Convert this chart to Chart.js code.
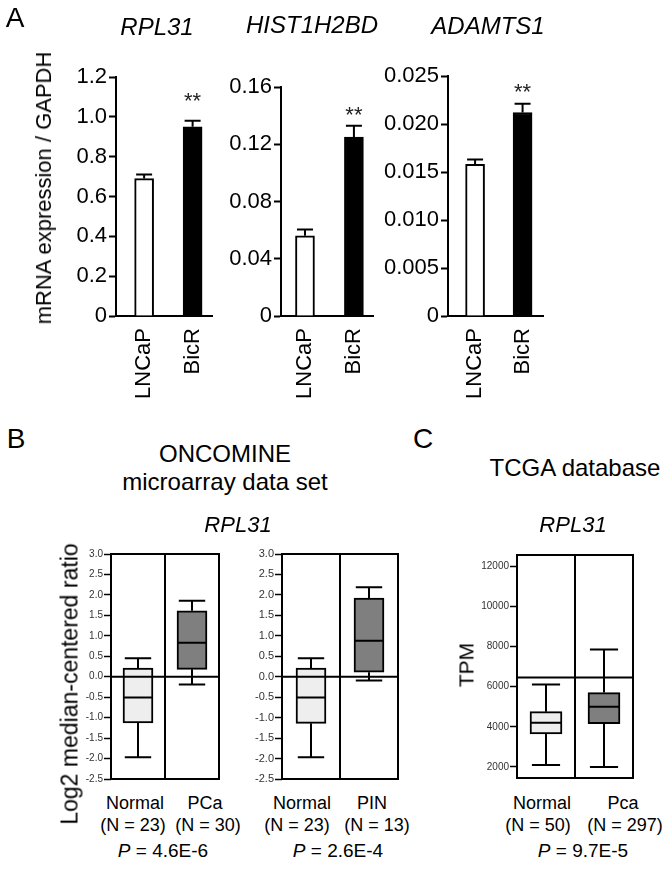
<!DOCTYPE html>
<html>
<head>
<meta charset="utf-8">
<script src="https://cdn.jsdelivr.net/npm/chart.js@4.4.1/dist/chart.umd.min.js"></script>
<style>
html, body { margin: 0; padding: 0; background: #fff; }
#fig { position: relative; width: 670px; height: 869px; overflow: hidden;
       font-family: "Liberation Sans", Arial, sans-serif; color: #000; }
#fig canvas { position: absolute; }
.t { position: absolute; white-space: nowrap; line-height: 1; transform: translate(-50%, -50%); }
.rot { transform: translate(-50%, -50%) rotate(-90deg); }
</style>
</head>
<body>
<div id="fig"></div>
<script>
// ---- panel A : qPCR, mean + error ----
var cellLines = ['LNCaP', 'BicR'];
var genesA = ['RPL31', 'HIST1H2BD', 'ADAMTS1'];
var rpl31Expr = [0.69, 0.95];
var rpl31Err = [0.02, 0.03];
var histExpr = [0.056, 0.125];
var histErr = [0.0045, 0.008];
var adamtsExpr = [0.0158, 0.0212];
var adamtsErr = [0.0005, 0.0009];
var starLevel = [1.10, 0.143, 0.0237];

// ---- panel B : ONCOMINE box plots (log2 median-centered ratio) ----
var oncGroups1 = ['Normal', 'PCa'];
var oncN1 = [23, 30];
var oncQ1_1 = [-1.13, 0.18];
var oncQ3_1 = [0.21, 1.61];
var oncMed1 = [-0.51, 0.83];
var oncLo1 = [-1.97, -0.19];
var oncHi1 = [0.45, 1.86];
var oncP1 = '4.6E-6';

var oncGroups2 = ['Normal', 'PIN'];
var oncN2 = [23, 13];
var oncQ1_2 = [-1.14, 0.11];
var oncQ3_2 = [0.21, 1.92];
var oncMed2 = [-0.51, 0.88];
var oncLo2 = [-1.97, -0.09];
var oncHi2 = [0.45, 2.19];
var oncP2 = '2.6E-4';

// ---- panel C : TCGA box plot (TPM) ----
var tcgaGroups = ['Normal', 'Pca'];
var tcgaN = [50, 297];
var tcgaQ1 = [3650, 4150];
var tcgaQ3 = [4750, 5700];
var tcgaMed = [4200, 5000];
var tcgaLo = [2100, 2000];
var tcgaHi = [6100, 7850];
var tcgaRef = 6450;
var tcgaTicks = [2000, 4000, 6000, 8000, 10000, 12000];
var tcgaP = '9.7E-5';

var FONT = '"Liberation Sans", Arial, sans-serif';
Chart.defaults.font.family = FONT;
Chart.defaults.color = '#000';

var fig = document.getElementById('fig');

function mount(left, top, w, h) {
    var c = document.createElement('canvas');
    c.width = w; c.height = h;
    c.style.left = left + 'px'; c.style.top = top + 'px';
    fig.appendChild(c);
    return c;
}

function text(html, x, y, size, cls) {
    var d = document.createElement('div');
    d.className = 't' + (cls ? ' ' + cls : '');
    d.style.left = x + 'px'; d.style.top = y + 'px';
    d.style.fontSize = size + 'px';
    d.innerHTML = html;
    fig.appendChild(d);
}

// error bars + significance stars on top of the bars
var errorBars = {
    id: 'errorBars',
    afterDatasetsDraw(chart, args, opts) {
        var ctx = chart.ctx, y = chart.scales.y;
        var meta = chart.getDatasetMeta(0);
        var vals = chart.data.datasets[0].data;
        ctx.save();
        ctx.strokeStyle = '#000';
        ctx.lineWidth = 2;
        meta.data.forEach(function(bar, i) {
            var v = vals[i].y;
            var y0 = y.getPixelForValue(v), y1 = y.getPixelForValue(v + opts.err[i]);
            ctx.beginPath();
            ctx.moveTo(bar.x, y0); ctx.lineTo(bar.x, y1);
            ctx.moveTo(bar.x - 8, y1); ctx.lineTo(bar.x + 8, y1);
            ctx.stroke();
        });
        ctx.fillStyle = '#222';
        ctx.font = '22px ' + FONT;
        ctx.textAlign = 'center';
        ctx.textBaseline = 'alphabetic';
        ctx.fillText('**', meta.data[1].x, y.getPixelForValue(opts.star) + 11);
        ctx.restore();
    }
};

function barChart(canvas, values, errs, star, geo, yCfg) {
    new Chart(canvas, {
        type: 'bar',
        data: {
            datasets: [{
                data: values.map(function(v, i) { return { x: i, y: v }; }),
                backgroundColor: ['#fff', '#000'],
                borderColor: '#000',
                borderWidth: 2,
                barThickness: 19
            }]
        },
        options: {
            responsive: false,
            animation: false,
            layout: { padding: { top: geo.top, right: geo.right, left: 0, bottom: 0 } },
            plugins: { legend: { display: false }, tooltip: { enabled: false },
                       errorBars: { err: errs, star: star } },
            scales: {
                x: {
                    type: 'linear', offset: false, min: geo.xmin, max: geo.xmax,
                    afterBuildTicks: function(s) { s.ticks = cellLines.map(function(c, i) { return { value: i }; }); },
                    afterFit: function(s) { s.height = geo.xh; s.paddingLeft = 0; s.paddingRight = 0; },
                    grid: { display: false, drawTicks: false },
                    border: { display: true, color: '#000', width: 2 },
                    ticks: { minRotation: 90, maxRotation: 90, padding: 12, font: { size: 22 },
                             callback: function(v, i) { return cellLines[i]; } }
                },
                y: {
                    min: 0, max: yCfg.max,
                    afterFit: function(s) { s.width = geo.axisW; },
                    grid: { drawOnChartArea: false, drawTicks: true, tickLength: 7, tickColor: '#000', tickWidth: 2 },
                    border: { display: true, color: '#000', width: 2 },
                    ticks: { stepSize: yCfg.step, padding: 2, font: { size: 22 },
                             callback: function(v) { return v === 0 ? '0' : v.toFixed(yCfg.dec); } }
                }
            }
        },
        plugins: [errorBars]
    });
}

// whiskers, medians, frame, divider and reference line
var boxWhiskers = {
    id: 'boxWhiskers',
    afterDatasetsDraw(chart, args, opts) {
        var ctx = chart.ctx, a = chart.chartArea;
        var x = chart.scales.x, y = chart.scales.y;
        var meta = chart.getDatasetMeta(0);
        var data = chart.data.datasets[0].data;
        ctx.save();
        ctx.strokeStyle = '#000';
        ctx.lineWidth = 2;
        meta.data.forEach(function(bar, i) {
            var half = bar.width / 2, cap = half * 0.88;
            var yq1 = y.getPixelForValue(data[i][0]), yq3 = y.getPixelForValue(data[i][1]);
            var ylo = y.getPixelForValue(opts.lo[i]), yhi = y.getPixelForValue(opts.hi[i]);
            var ym = y.getPixelForValue(opts.med[i]);
            ctx.beginPath();
            ctx.moveTo(bar.x, yq3); ctx.lineTo(bar.x, yhi);
            ctx.moveTo(bar.x - cap, yhi); ctx.lineTo(bar.x + cap, yhi);
            ctx.moveTo(bar.x, yq1); ctx.lineTo(bar.x, ylo);
            ctx.moveTo(bar.x - cap, ylo); ctx.lineTo(bar.x + cap, ylo);
            ctx.moveTo(bar.x - half, ym); ctx.lineTo(bar.x + half, ym);
            ctx.stroke();
        });
        var mid = (x.getPixelForValue(0) + x.getPixelForValue(1)) / 2;
        var yr = y.getPixelForValue(opts.ref);
        ctx.beginPath();
        ctx.moveTo(mid, a.top); ctx.lineTo(mid, a.bottom);
        ctx.moveTo(a.left, yr); ctx.lineTo(a.right, yr);
        ctx.stroke();
        ctx.strokeRect(a.left, a.top, a.right - a.left, a.bottom - a.top);
        ctx.restore();
    }
};

function boxChart(canvas, groups, q1, q3, med, lo, hi, ref, geo, yCfg) {
    var yScale = {
        min: yCfg.min, max: yCfg.max,
        afterFit: function(s) { s.width = geo.axisW; },
        grid: { drawOnChartArea: false, drawTicks: true, tickLength: 7, tickColor: '#000', tickWidth: 1.5 },
        border: { display: false },
        ticks: { padding: 1, color: '#333', font: { size: yCfg.font },
                 callback: yCfg.fmt }
    };
    if (yCfg.ticks) {
        yScale.afterBuildTicks = function(s) { s.ticks = yCfg.ticks.map(function(v) { return { value: v }; }); };
    } else {
        yScale.ticks.stepSize = yCfg.step;
    }
    new Chart(canvas, {
        type: 'bar',
        data: {
            labels: groups,
            datasets: [{
                data: groups.map(function(g, i) { return [q1[i], q3[i]]; }),
                backgroundColor: ['#eeeeee', '#7f7f7f'],
                borderColor: '#000',
                borderWidth: 2,
                borderSkipped: false,
                barThickness: geo.box
            }]
        },
        options: {
            responsive: false,
            animation: false,
            layout: { padding: { top: geo.top, right: geo.right, bottom: geo.bottom, left: 0 } },
            plugins: { legend: { display: false }, tooltip: { enabled: false },
                       boxWhiskers: { lo: lo, hi: hi, med: med, ref: ref } },
            scales: { x: { display: false }, y: yScale }
        },
        plugins: [boxWhiskers]
    });
}

// ---- panel A ----
barChart(mount(0, 0, 215, 410), rpl31Expr, rpl31Err, starLevel[0],
    { top: 77, right: 3, axisW: 116, xh: 94, xmin: -0.58, xmax: 1.4 },
    { max: 1.2, step: 0.2, dec: 1 });
barChart(mount(215, 0, 162, 410), histExpr, histErr, starLevel[1],
    { top: 87, right: 4, axisW: 66, xh: 94, xmin: -0.49, xmax: 1.39 },
    { max: 0.16, step: 0.04, dec: 2 });
barChart(mount(380, 0, 168, 410), adamtsExpr, adamtsErr, starLevel[2],
    { top: 76, right: 5, axisW: 68, xh: 94, xmin: -0.57, xmax: 1.43 },
    { max: 0.025, step: 0.005, dec: 3 });

text('A', 15, 18, 28);
text('<i>' + genesA[0] + '</i>', 157, 27, 24);
text('<i>' + genesA[1] + '</i>', 312, 25, 24);
text('<i>' + genesA[2] + '</i>', 488, 26, 24);
text('mRNA expression / GAPDH', 44, 188, 22, 'rot');

// ---- panel B ----
var oncFmt = function(v) { return v.toFixed(1); };
boxChart(mount(80, 530, 145, 260), oncGroups1, oncQ1_1, oncQ3_1, oncMed1, oncLo1, oncHi1, 0,
    { top: 24, right: 6, bottom: 11, axisW: 31, box: 30 },
    { min: -2.5, max: 3.0, step: 0.5, font: 10, fmt: oncFmt });
boxChart(mount(240, 530, 165, 260), oncGroups2, oncQ1_2, oncQ3_2, oncMed2, oncLo2, oncHi2, 0,
    { top: 24, right: 7, bottom: 11, axisW: 42, box: 30 },
    { min: -2.5, max: 3.0, step: 0.5, font: 11, fmt: oncFmt });

text('B', 16, 439, 28);
text('ONCOMINE', 225, 454, 24);
text('microarray data set', 225, 482, 24);
text('<i>RPL31</i>', 238, 525, 22);
text('Log2 median-centered ratio', 70, 684, 23, 'rot');

text(oncGroups1[0], 135, 803, 18);
text(oncGroups1[1], 205, 803, 18);
text('(N = ' + oncN1[0] + ')', 133, 825, 18);
text('(N = ' + oncN1[1] + ')', 208, 825, 18);
text('<i>P</i> = ' + oncP1, 163, 850, 19);

text(oncGroups2[0], 302, 803, 18);
text(oncGroups2[1], 372, 803, 18);
text('(N = ' + oncN2[0] + ')', 297, 825, 18);
text('(N = ' + oncN2[1] + ')', 377, 825, 18);
text('<i>P</i> = ' + oncP2, 338, 850, 19);

// ---- panel C ----
boxChart(mount(460, 530, 180, 260), tcgaGroups, tcgaQ1, tcgaQ3, tcgaMed, tcgaLo, tcgaHi, tcgaRef,
    { top: 25, right: 7, bottom: 12, axisW: 57, box: 32 },
    { min: 1450, max: 12550, ticks: tcgaTicks, font: 10, fmt: function(v) { return String(v); } });

text('C', 423, 439, 28);
text('TCGA database', 575, 468, 24);
text('<i>RPL31</i>', 573, 525, 22);
text('TPM', 466, 665, 21, 'rot');
text(tcgaGroups[0], 542, 803, 18);
text(tcgaGroups[1], 623, 803, 18);
text('(N = ' + tcgaN[0] + ')', 538, 825, 18);
text('(N = ' + tcgaN[1] + ')', 625, 825, 18);
text('<i>P</i> = ' + tcgaP, 583, 850, 19);
</script>
</body>
</html>
